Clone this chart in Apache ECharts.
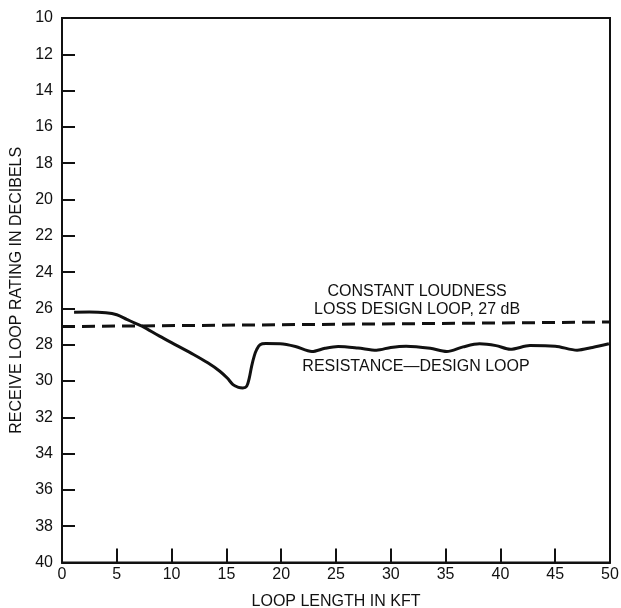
<!DOCTYPE html>
<html>
<head>
<meta charset="utf-8">
<script src="https://cdn.jsdelivr.net/npm/echarts@6/dist/echarts.min.js"></script>
<style>html,body{margin:0;padding:0;background:#fff;}#c{width:621px;height:608px;}</style>
</head>
<body>
<div id="c"></div>
<script>
// Resistance-design loop: [loop length kft, receive loop rating dB]
const resistanceLoop = [
  [1.1, 26.21], [2.5, 26.2], [4.0, 26.24], [5.0, 26.35], [5.9, 26.6], [6.6, 26.8],
  [7.3, 26.98], [8.9, 27.53], [10.5, 28.05], [12.0, 28.54], [13.3, 29.0],
  [14.4, 29.46], [15.1, 29.85], [15.6, 30.2], [16.1, 30.35], [16.5, 30.38],
  [16.85, 30.29], [17.1, 29.8], [17.3, 29.19], [17.55, 28.6], [17.76, 28.27],
  [18.07, 28.0], [18.6, 27.94], [19.9, 27.95], [21.3, 28.1], [22.8, 28.38],
  [24.0, 28.2], [25.2, 28.1], [27.0, 28.18], [28.7, 28.3], [30.0, 28.15],
  [31.4, 28.08], [33.6, 28.2], [35.1, 28.38], [36.6, 28.12], [38.1, 27.95],
  [39.6, 28.05], [40.9, 28.25], [42.7, 28.05], [45.0, 28.08], [47.0, 28.3],
  [48.4, 28.15], [49.9, 27.95]
];
// Constant loudness loss design loop
const constantLoop = [[0, 27.0], [50, 26.75]];
const xTicks = [0, 5, 10, 15, 20, 25, 30, 35, 40, 45, 50];
const yTicks = [10, 12, 14, 16, 18, 20, 22, 24, 26, 28, 30, 32, 34, 36, 38, 40];
const labelConstant1 = 'CONSTANT LOUDNESS';
const labelConstant2 = 'LOSS DESIGN LOOP, 27 dB';
const labelResistance = 'RESISTANCE\u2014DESIGN LOOP';
const labelPoints = [
  { text: labelConstant1, coord: [32.4, 25.05] },
  { text: labelConstant2, coord: [32.4, 26.06] },
  { text: labelResistance, coord: [32.3, 29.2] }
];

const font = '"Liberation Sans", Arial, Helvetica, sans-serif';
const ink = '#111';
const chart = echarts.init(document.getElementById('c'), null, { renderer: 'canvas' });
chart.setOption({
  backgroundColor: '#fff',
  animation: false,
  grid: { left: 62, top: 18, right: 11, bottom: 45.5, containLabel: false, outerBoundsMode: 'none',
    show: true, borderColor: ink, borderWidth: 2, backgroundColor: 'transparent' },
  xAxis: {
    type: 'value', min: 0, max: 50, interval: 5,
    name: 'LOOP LENGTH IN KFT', nameLocation: 'middle', nameGap: 31,
    nameTextStyle: { fontFamily: font, fontSize: 16, color: ink },
    axisLine: { show: true, lineStyle: { color: ink, width: 2 } },
    axisTick: { show: true, inside: true, length: 14, lineStyle: { color: ink, width: 2 } },
    axisLabel: { fontFamily: font, fontSize: 16, color: ink, margin: 4,
      formatter: v => xTicks.includes(v) ? String(v) : '' },
    splitLine: { show: false }
  },
  yAxis: {
    type: 'value', min: 10, max: 40, interval: 2, inverse: true,
    name: 'RECEIVE LOOP RATING IN DECIBELS', nameLocation: 'middle', nameGap: 36,
    nameTextStyle: { fontFamily: font, fontSize: 16, color: ink },
    axisLine: { show: true, lineStyle: { color: ink, width: 2 } },
    axisTick: { show: true, inside: true, length: 13, lineStyle: { color: ink, width: 2 } },
    axisLabel: { fontFamily: font, fontSize: 16, color: ink, margin: 9,
      formatter: v => yTicks.includes(v) ? String(v) : '' },
    splitLine: { show: false }
  },
  series: [
    {
      type: 'line', data: constantLoop, showSymbol: false, symbol: 'none',
      lineStyle: { color: ink, width: 3, type: [13, 7] },
      markPoint: {
        symbol: 'circle', symbolSize: 0,
        label: { show: true, position: 'inside', fontFamily: font, fontSize: 16, color: ink, formatter: p => p.name },
        data: labelPoints.map(l => ({ name: l.text, coord: l.coord }))
      }
    },
    {
      type: 'line', data: resistanceLoop, showSymbol: false, symbol: 'none', smooth: 0.3,
      lineStyle: { color: ink, width: 3 }
    }
  ]
});
</script>
</body>
</html>
